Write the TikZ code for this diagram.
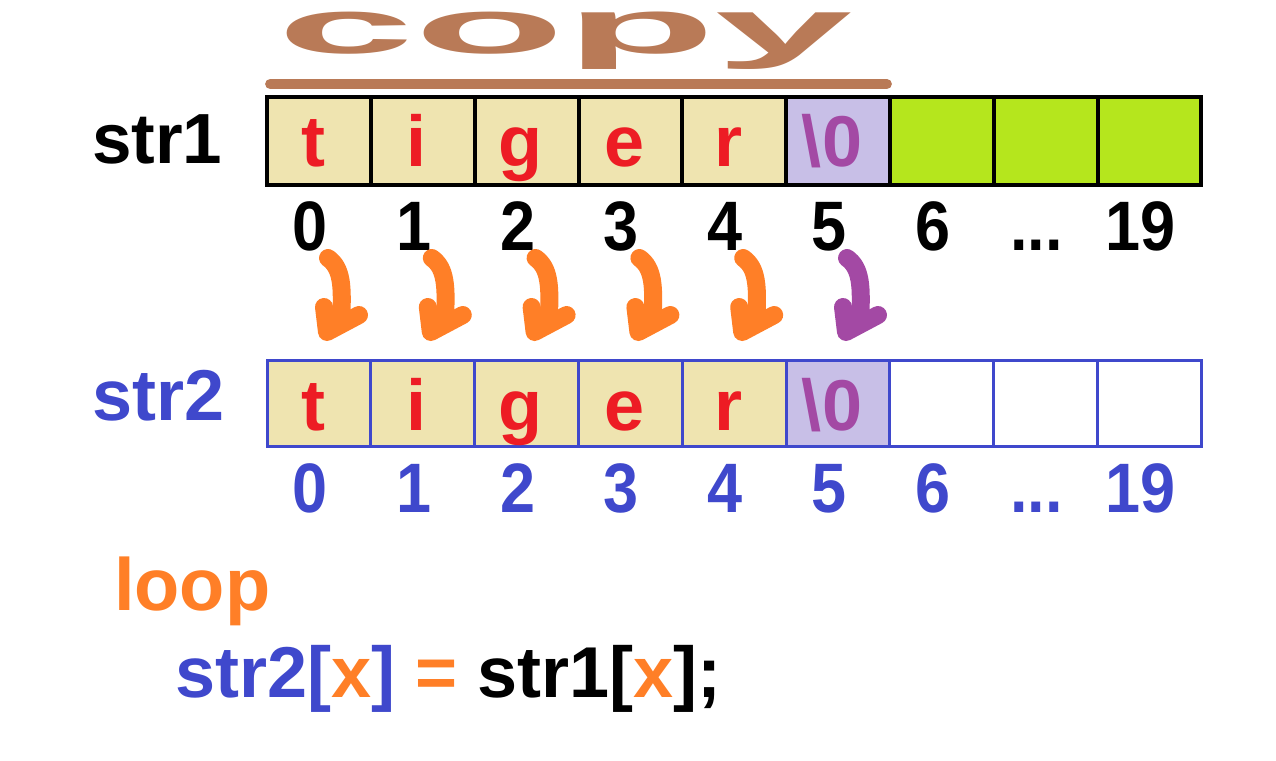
\documentclass[tikz,border=0pt]{standalone}
\usepackage{fontspec}
\setmainfont{Liberation Sans}
\usetikzlibrary{calc}
\definecolor{cbrown}{HTML}{B97A57}
\definecolor{cbeige}{HTML}{EFE4B0}
\definecolor{clav}{HTML}{C8BFE7}
\definecolor{clime}{HTML}{B5E61D}
\definecolor{cred}{HTML}{ED1C24}
\definecolor{cpurple}{HTML}{A349A4}
\definecolor{cblue}{HTML}{3F48CC}
\definecolor{corange}{HTML}{FF7F27}
\newcommand\mydotsx{...}
\begin{document}
\begin{tikzpicture}[x=1pt,y=-1pt,
  topcell/.style={draw=black,line width=4pt,minimum width=103.8pt,minimum height=88pt,inner sep=0pt,outer sep=0pt},
  botcell/.style={draw=cblue,line width=3pt,minimum width=103.8pt,minimum height=86pt,inner sep=0pt,outer sep=0pt},
  lett/.style={anchor=base,inner sep=0pt,font=\bfseries\fontsize{72}{80}\selectfont},
  idx/.style={anchor=base,inner sep=0pt,xscale=0.9,font=\bfseries\fontsize{70}{80}\selectfont},
  big/.style={anchor=base west,inner sep=0pt,font=\bfseries\fontsize{72}{80}\selectfont},
  arr/.style={line width=18pt,line cap=round,line join=round}
]
\useasboundingbox (0,0) rectangle (1276,760);

% copy title
\node[anchor=base,inner sep=0pt,xscale=3.2,text=cbrown,font=\bfseries\fontsize{77}{80}\selectfont] (copy) at (565,54) {copy};

% cells
\foreach \i/\f in {0/cbeige,1/cbeige,2/cbeige,3/cbeige,4/cbeige,5/clav,6/clime,7/clime,8/clime}{
  \node[topcell,fill=\f] (c1-\i) at ({319+103.8*\i},141) {};
}
\foreach \i/\f in {0/cbeige,1/cbeige,2/cbeige,3/cbeige,4/cbeige,5/clav,6/white,7/white,8/white}{
  \node[botcell,fill=\f] (c2-\i) at ({319+103.8*\i},403) {};
}
% redraw outer borders on top
\draw[line width=4pt] (c1-0.north west) rectangle (c1-8.south east);
\draw[cblue,line width=3pt] (c2-0.north west) rectangle (c2-8.south east);

% underline of copy
\draw[cbrown,line width=10pt,line cap=round] ($(c1-0.north west)+(3,-13)$) coordinate (ul1) -- ($(c1-5.north east)+(-3,-13)$) coordinate (ul2);

% letters
\foreach \i/\t in {0/t,1/i,2/g,3/e,4/r}{
  \node[lett,text=cred] (l1-\i) at ($(c1-\i.south)+(-6,-19)$) {\t};
  \node[lett,text=cred] (l2-\i) at ($(c2-\i.south)+(-6,-16)$) {\t};
}
\node[lett,text=cpurple] (l1-5) at ($(c1-5.south)+(-6,-19)$) {\textbackslash 0};
\node[lett,text=cpurple] (l2-5) at ($(c2-5.south)+(-6,-16)$) {\textbackslash 0};

% indices
\foreach \i/\t in {0/0,1/1,2/2,3/3,4/4,5/5,6/6,7/\mydotsx,8/19}{
  \node[idx,text=black] (n1-\i) at ($(c1-\i.south)+(-9,65)$) {\t};
  \node[idx,text=cblue] (n2-\i) at ($(c2-\i.south)+(-9,66)$) {\t};
}

% arrows
\foreach \i/\c in {0/corange,1/corange,2/corange,3/corange,4/corange,5/cpurple}{
  \coordinate (as\i) at ($(c1-\i.south)+(9,73)$);
  \coordinate (ae\i) at ($(c1-\i.south)+(22,136)$);
  \coordinate (hl\i) at ($(c1-\i.south)+(5,122)$);
  \coordinate (hb\i) at ($(c1-\i.south)+(8,147)$);
  \coordinate (hr\i) at ($(c1-\i.south)+(40,130)$);
  \draw[arr,\c] (as\i) .. controls ($(as\i)+(14,10)$) and ($(ae\i)+(2,-35)$) .. (ae\i);
  \draw[arr,\c] (hl\i) -- (hb\i) -- (hr\i);
}

% labels
\node[big,text=black,font=\bfseries\fontsize{71}{80}\selectfont] (s1) at (92,163) {str1};
\node[big,text=cblue,font=\bfseries\fontsize{72}{80}\selectfont] (s2) at (92,420) {str2};
\node[big,text=corange,font=\bfseries\fontsize{74}{80}\selectfont] (loop) at (114,610) {loop};
\node[big] (code) at (175,697) {\textcolor{cblue}{str2[}\textcolor{corange}{x}\textcolor{cblue}{]} \textcolor{corange}{=} str1[\textcolor{corange}{x}];};
\end{tikzpicture}
\end{document}
